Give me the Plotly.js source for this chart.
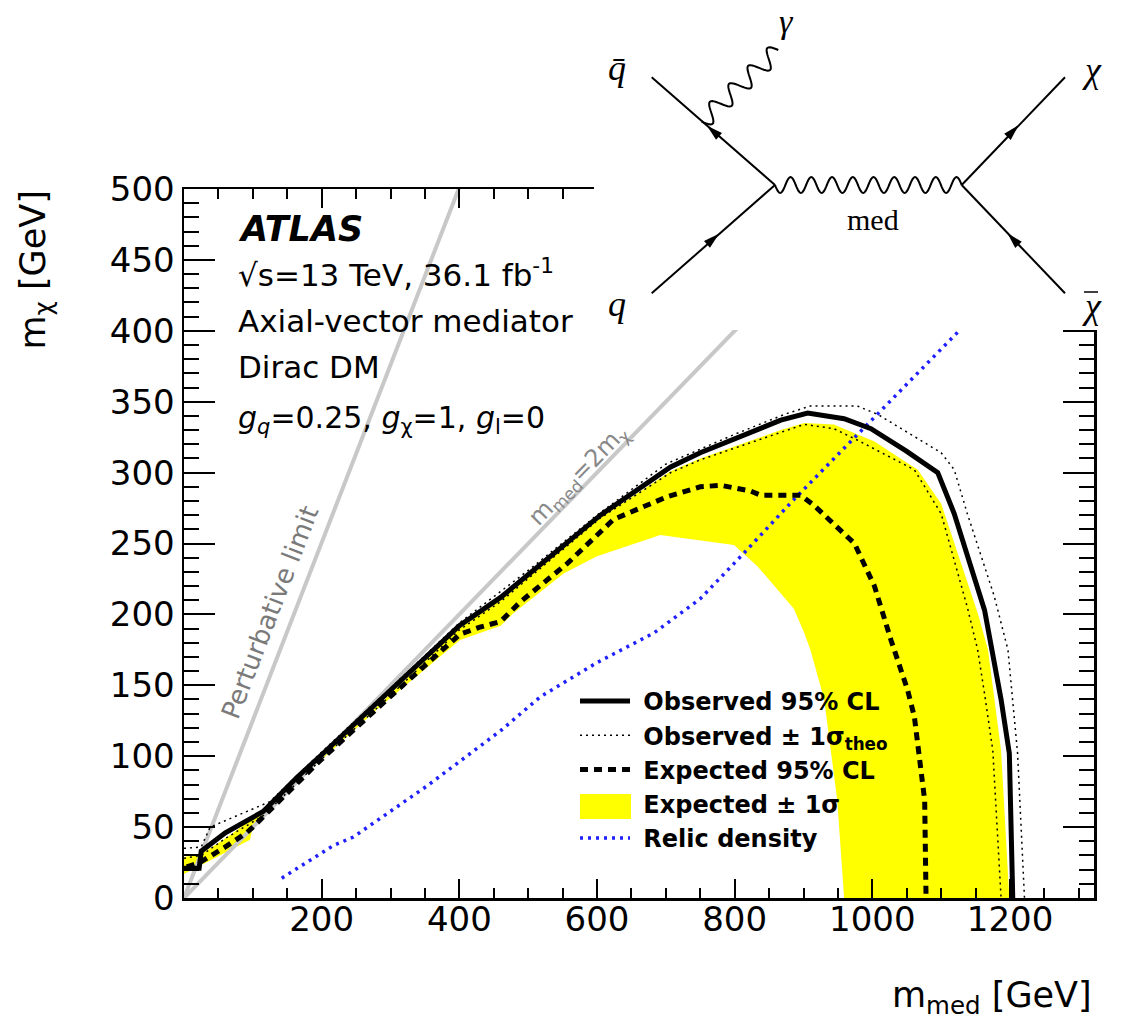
<!DOCTYPE html>
<html><head><meta charset="utf-8">
<script src="https://cdn.plot.ly/plotly-3.0.1.min.js"></script>
<style>html,body{margin:0;padding:0;background:#fff;} #chart{width:1132px;height:1021px;}</style>
</head><body><div id="chart"></div>
<script>
// ---- data (GeV) ----
const obsX = [0, 22, 25, 60, 115, 164, 200, 285, 400, 460, 605, 707, 750, 867, 906, 959, 998, 1050, 1095, 1119, 1163, 1187, 1199, 1204];
const obsY = [21, 21, 33, 46, 61, 85, 101, 140, 192, 212, 270, 304, 314, 337, 342, 338, 331, 315, 300, 271, 203, 140, 102, 0];

const obsUpX = [0, 25, 38, 125, 200, 300, 400, 500, 600, 700, 800, 872, 910, 978, 1008, 1060, 1100, 1119, 1138, 1177, 1197, 1211, 1221];
const obsUpY = [35, 36, 50, 68, 103, 148, 194, 231, 270, 306, 327, 341, 347, 347, 341, 326, 314, 302, 271, 213, 175, 102, 0];

const obsDnX = [0, 25, 60, 115, 200, 285, 400, 460, 605, 707, 750, 901, 944, 978, 1061, 1100, 1138, 1153, 1163, 1175, 1187];
const obsDnY = [28, 30, 42, 58, 98, 136, 189, 209, 268, 300, 309, 334, 331, 323, 302, 271, 205, 175, 144, 104, 0];

const expX = [4, 23, 60, 91, 100, 198, 295, 401, 430, 460, 489, 557, 624, 702, 750, 780, 823, 838, 896, 915, 974, 1003, 1027, 1037, 1051, 1061, 1076, 1078];
const expY = [22, 25, 36, 46, 50, 97, 140, 186, 191, 195, 209, 236, 267, 283, 290, 291, 287, 284, 284, 277, 250, 220, 182, 168, 147, 128, 69, 0];

const bandX = [0, 25, 60, 100, 115, 164, 200, 285, 400, 460, 605, 707, 750, 867, 901, 944, 1003, 1066, 1100, 1129, 1153, 1168, 1187, 1199,
               959, 949, 930, 910, 901, 886, 833, 799, 692, 600, 552, 479, 460, 401, 285, 140, 100, 96, 0];
const bandY = [29, 31, 42, 56, 60, 83, 99, 137, 190, 210, 268, 301, 310, 330, 335, 334, 322, 302, 278, 236, 201, 175, 104, 0,
               0, 69, 140, 175, 187, 204, 234, 249, 256, 241, 229, 201, 192, 182, 135, 71, 51, 41, 17];

const relicX = [142, 180, 217, 246, 353, 460, 518, 600, 683, 750, 813, 886, 1003, 1130];
const relicY = [14, 26, 37, 43, 79, 118, 142, 166, 187, 211, 243, 281, 339, 402];

const pertX = [0, 399];
const pertY = [0, 500];
const twoX = [0, 1000];
const twoY = [0, 500];

const xTicks = [200, 400, 600, 800, 1000, 1200];

// ---- geometry helpers (pixel -> paper) ----
const L = 184, R = 1094, T = 189, B = 898;
function PX(px) { return (px - L) / (R - L); }
function PY(py) { return (B - py) / (B - T); }

function wavy(x0, y0, x1, y1, n, amp) {
  const dx = x1 - x0, dy = y1 - y0, len = Math.hypot(dx, dy);
  const nx = -dy / len, ny = dx / len;
  const N = Math.round(n * 24); let d = '';
  for (let i = 0; i <= N; i++) {
    const t = i / N, s = amp * Math.sin(2 * Math.PI * n * t);
    const px = x0 + dx * t + nx * s, py = y0 + dy * t + ny * s;
    d += (i ? 'L' : 'M') + PX(px).toFixed(5) + ',' + PY(py).toFixed(5);
  }
  return d;
}
function arrow(cx, cy, tx, ty) {
  const len = Math.hypot(tx, ty), ux = tx / len, uy = ty / len, nx = -uy, ny = ux;
  const a = 8, w = 4.5;
  const p1 = [cx + ux * a, cy + uy * a], p2 = [cx - ux * a + nx * w, cy - uy * a + ny * w], p3 = [cx - ux * a - nx * w, cy - uy * a - ny * w];
  return 'M' + [p1, p2, p3].map(p => PX(p[0]).toFixed(5) + ',' + PY(p[1]).toFixed(5)).join('L') + 'Z';
}
function seg(x0, y0, x1, y1, w) {
  return {type: 'line', xref: 'paper', yref: 'paper', x0: PX(x0), y0: PY(y0), x1: PX(x1), y1: PY(y1), line: {color: 'black', width: w || 2}, layer: 'above'};
}

const vL = [775, 185], vR = [961.7, 185];
const shapes = [
  {type: 'rect', xref: 'paper', yref: 'paper', x0: PX(594), x1: PX(1132), y0: PY(0), y1: PY(330), fillcolor: 'white', line: {width: 0}, layer: 'above'},
  seg(651.7, 77.3, vL[0], vL[1]),
  seg(651.7, 293.3, vL[0], vL[1]),
  seg(vR[0], vR[1], 1065, 77.3),
  seg(vR[0], vR[1], 1065, 293.3),
  {type: 'path', xref: 'paper', yref: 'paper', path: wavy(vL[0], vL[1], vR[0], vR[1], 9, 8), line: {color: 'black', width: 2}, layer: 'above'},
  {type: 'path', xref: 'paper', yref: 'paper', path: wavy(701.7, 121.7, 778.3, 50, 4, 9), line: {color: 'black', width: 2}, layer: 'above'},
  {type: 'path', xref: 'paper', yref: 'paper', path: arrow(713, 131, 651.7 - 775, 77.3 - 185), fillcolor: 'black', line: {width: 0}, layer: 'above'},
  {type: 'path', xref: 'paper', yref: 'paper', path: arrow(713, 239, 775 - 651.7, 185 - 293.3), fillcolor: 'black', line: {width: 0}, layer: 'above'},
  {type: 'path', xref: 'paper', yref: 'paper', path: arrow(1013, 131, 1065 - 961.7, 77.3 - 185), fillcolor: 'black', line: {width: 0}, layer: 'above'},
  {type: 'path', xref: 'paper', yref: 'paper', path: arrow(1013, 239, 961.7 - 1065, 185 - 293.3), fillcolor: 'black', line: {width: 0}, layer: 'above'},
  // bar of the anti-chi label
  seg(1084, 292, 1098, 292, 1.5),
  // legend swatch for the yellow band
  {type: 'rect', xref: 'paper', yref: 'paper', x0: PX(580), x1: PX(631), y0: PY(794), y1: PY(819), fillcolor: '#ffff00', line: {width: 0}, layer: 'above'}
];

function ann(text, px, py, opts) {
  return Object.assign({text: text, xref: 'paper', yref: 'paper', x: PX(px), y: PY(py), showarrow: false, xanchor: 'left', yanchor: 'middle'}, opts || {});
}
const sans = 'DejaVu Sans, Verdana, sans-serif';
const serif = 'Liberation Serif, Times New Roman, serif';
const annotations = [
  ann('ATLAS', 236, 229, {font: {family: sans, size: 35, weight: 'bold', style: 'italic'}}),
  ann('√s=13 TeV, 36.1 fb<sup>-1</sup>', 236, 273, {font: {family: sans, size: 31}}),
  ann('Axial-vector mediator', 236, 321, {font: {family: sans, size: 31}}),
  ann('Dirac DM', 236, 367, {font: {family: sans, size: 31}}),
  ann('<i>g</i><sub><i>q</i></sub>=0.25, <i>g</i><sub>χ</sub>=1, <i>g</i><sub>l</sub>=0', 236, 419, {font: {family: sans, size: 30}}),
  ann('Perturbative limit', 270, 612, {xanchor: 'center', textangle: -68.9, font: {family: sans, size: 26, color: '#7a7a7a'}}),
  ann('m<sub>med</sub>=2m<sub>χ</sub>', 578, 476, {xanchor: 'center', textangle: -45.9, font: {family: sans, size: 24, color: '#888888'}}),
  ann('m<sub>χ</sub> [GeV]', 35, 189, {xanchor: 'center', yanchor: 'top', textangle: -90, font: {family: sans, size: 35}}),
  ann('m<sub>med</sub> [GeV]', 1094, 997, {xanchor: 'right', font: {family: sans, size: 35}}),
  // Feynman diagram labels
  ann('q̄', 617, 68, {xanchor: 'center', font: {family: serif, size: 36, style: 'italic'}}),
  ann('γ', 786, 22, {xanchor: 'center', font: {family: serif, size: 34, style: 'italic'}}),
  ann('χ', 1092, 70, {xanchor: 'center', font: {family: serif, size: 36, style: 'italic'}}),
  ann('q', 617, 304, {xanchor: 'center', font: {family: serif, size: 36, style: 'italic'}}),
  ann('χ', 1092, 306, {xanchor: 'center', font: {family: serif, size: 36, style: 'italic'}}),
  ann('med', 873, 219, {xanchor: 'center', font: {family: serif, size: 30}})
];

const traces = [
  {x: bandX, y: bandY, mode: 'lines', fill: 'toself', fillcolor: '#ffff00', line: {width: 0, color: '#ffff00'}, name: '\u00a0Expected ± 1σ', legendrank: 4, hoverinfo: 'skip'},
  {x: pertX, y: pertY, mode: 'lines', line: {color: '#c8c8c8', width: 4}, showlegend: false, hoverinfo: 'skip'},
  {x: twoX, y: twoY, mode: 'lines', line: {color: '#c8c8c8', width: 4}, showlegend: false, hoverinfo: 'skip'},
  {x: relicX, y: relicY, mode: 'lines', line: {color: '#2020ff', width: 3.5, dash: '3px,5px'}, name: '\u00a0Relic density', legendrank: 5},
  {x: expX, y: expY, mode: 'lines', line: {color: 'black', width: 5, dash: '8px,6px'}, name: '\u00a0Expected 95% CL', legendrank: 3},
  {x: obsUpX, y: obsUpY, mode: 'lines', line: {color: 'black', width: 1.5, dash: '2px,4px'}, name: '\u00a0Observed ± 1σ<sub>theo</sub>', legendgroup: 'theo', legendrank: 2},
  {x: obsDnX, y: obsDnY, mode: 'lines', line: {color: 'black', width: 1.5, dash: '2px,4px'}, name: '\u00a0Observed ± 1σ<sub>theo</sub>', legendgroup: 'theo', showlegend: false},
  {x: obsX, y: obsY, mode: 'lines', line: {color: 'black', width: 5}, name: '\u00a0Observed 95% CL', legendrank: 1}
];

const axisCommon = {
  showgrid: false, zeroline: false, showline: true, linecolor: 'black', linewidth: 2.5,
  mirror: 'ticks', ticks: 'inside', tickcolor: 'black', tickwidth: 2,
  tickfont: {family: sans, size: 34, color: 'black'}
};
const layout = {
  width: 1132, height: 1021,
  margin: {l: L, r: 1132 - R, t: T, b: 1021 - B},
  paper_bgcolor: 'white', plot_bgcolor: 'white',
  font: {family: sans, color: 'black'},
  showlegend: true,
  xaxis: Object.assign({}, axisCommon, {
    range: [0, 1322], tickmode: 'array', tickvals: xTicks, ticklen: 19, ticklabelstandoff: -10,
    minor: {tickmode: 'linear', tick0: 0, dtick: 50, ticks: 'inside', ticklen: 10, tickwidth: 2, tickcolor: 'black', showgrid: false}
  }),
  yaxis: Object.assign({}, axisCommon, {
    range: [0, 500], tickmode: 'linear', tick0: 0, dtick: 50, ticklen: 31,
    minor: {tickmode: 'linear', tick0: 0, dtick: 10, ticks: 'inside', ticklen: 15, tickwidth: 2, tickcolor: 'black', showgrid: false}
  }),
  legend: {x: PX(575), y: PY(679), xanchor: 'left', yanchor: 'top', bgcolor: 'rgba(0,0,0,0)', borderwidth: 0,
           font: {family: sans, size: 24, weight: 'bold', color: 'black'}, itemwidth: 50, traceorder: 'normal'},
  shapes: shapes,
  annotations: annotations
};

Plotly.newPlot('chart', traces, layout, {staticPlot: true, displayModeBar: false});
</script>
</body></html>
